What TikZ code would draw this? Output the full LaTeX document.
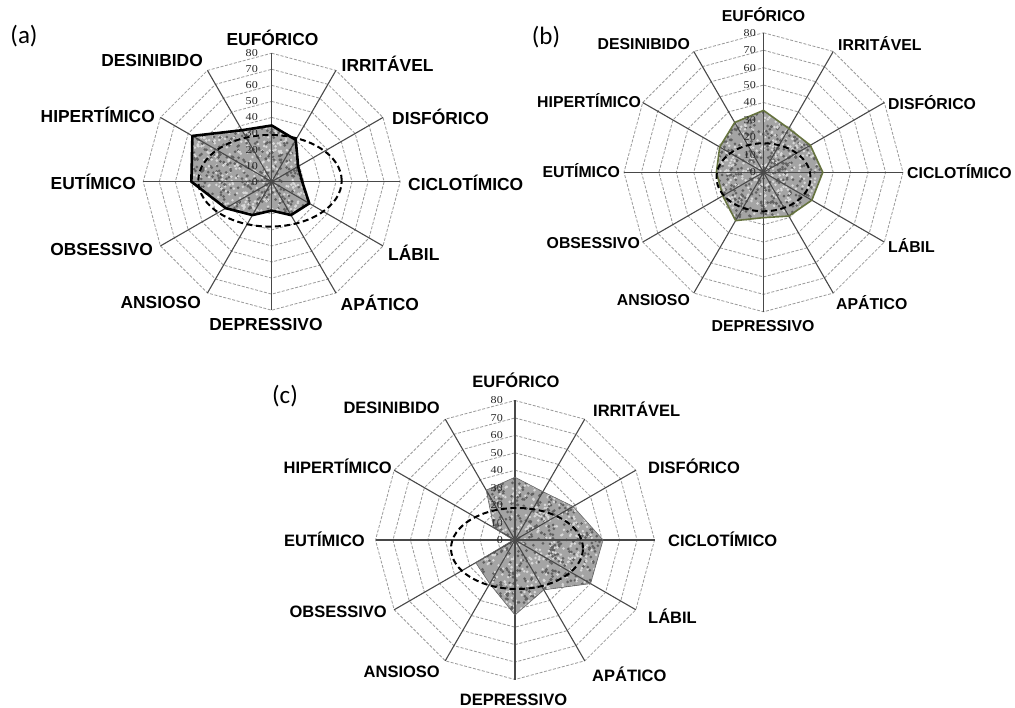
\documentclass[tikz,border=0pt]{standalone}
\usepackage{fontspec}
\setmainfont{Liberation Sans}
\newfontfamily\panelfont{Carlito}
\newfontfamily\tickfont[FakeStretch=1.15]{Liberation Serif}
\definecolor{axiscol}{HTML}{484848}
\definecolor{ringcol}{HTML}{9A9A9A}
\definecolor{fillbase}{HTML}{A4A4A4}
\definecolor{speckdark}{HTML}{626262}
\definecolor{specklight}{HTML}{D8D8D8}
\definecolor{olivecol}{HTML}{66733F}
\tikzset{
  ring/.style={draw=ringcol, line width=0.8pt, dash pattern=on 3pt off 1.6pt},
  axisline/.style={draw=axiscol, line width=1.1pt},
  meanell/.style={draw=black, line width=2pt, dash pattern=on 6pt off 3.5pt},
  catlabel/.style={inner sep=0pt, font=\bfseries\fontsize{#1}{#1}\selectfont},
  ticklabel/.style={inner sep=0pt, anchor=east, font=\tickfont\fontsize{10.5}{10.5}\selectfont, text=black!85},
  panel/.style={inner sep=0pt, font=\panelfont\fontsize{25}{25}\selectfont},
  outA/.style={draw=black, line width=2.6pt, line join=round},
  outB/.style={draw=olivecol, line width=1.6pt, line join=round},
  outC/.style={draw=black!60, line width=0.6pt, line join=round},
}
% #1 prefix, #2 R, #3 values, #4 speckle half size, #5 speckle count, #6 outline style,
% #7 ellipse centre offset, #8 x radius, #9 y radius
\newcommand\radar[9]{%
  \def\radR{#2}%
  \coordinate (#1c) at (0,0);
  \foreach \k in {1,...,8}{\draw[ring] (90:{\k*\radR/8}) \foreach \a in {60,30,...,-240}{ -- (\a:{\k*\radR/8})} -- cycle;}
  \foreach \v [count=\i from 0] in {#3}{\coordinate (#1\i) at ({90-30*\i}:{\v*\radR/80});}
  \foreach \i in {0,...,11}{\coordinate (#1e\i) at ({90-30*\i}:\radR);}
  \begin{scope}
    \clip (#10) \foreach \i in {1,...,11}{ -- (#1\i)} -- cycle;
    \fill[fillbase] (#10) \foreach \i in {1,...,11}{ -- (#1\i)} -- cycle;
    \foreach \j in {1,...,#5}{\fill[speckdark] ({rand*#4},{rand*#4}) circle (1.5);\fill[specklight] ({rand*#4},{rand*#4}) circle (1.4);}
  \end{scope}
  \foreach \i in {0,...,11}{\draw[axisline] (#1c) -- (#1e\i);}
  \draw[#6] (#10) \foreach \i in {1,...,11}{ -- (#1\i)} -- cycle;
  \draw[meanell] (#7) ellipse [x radius=#8, y radius=#9];
}
\newcommand\ticks[3]{\foreach \k in {0,...,8}{\node[ticklabel] (#1t\k) at (-#3,{\k*#2/8}) {\the\numexpr10*\k\relax};}}
\begin{document}
\begin{tikzpicture}[x=1pt,y=1pt]
\pgfmathsetseed{7}
\useasboundingbox (0,0) rectangle (1015,-708);
\fill[white] (0,0) rectangle (1015,-708);

% ---------- chart (a)
\begin{scope}[shift={(271.7,-181.7)}]
  \radar{a}{128.5}{35,30,19,19,27,24,18,24,33,50,57,37}{93}{1150}{outA}{-1.7,0.9}{71.7}{45.8}
  \ticks{a}{128.5}{13.7}
\end{scope}
\node[panel] (pa) at (24,-36) {(a)};
\node[catlabel=17.4, anchor=center] (aL0) at (272.5,-37.5) {EUFÓRICO};
\node[catlabel=17.4, anchor=west] (aL1) at (341.5,-64) {IRRITÁVEL};
\node[catlabel=17.4, anchor=west] (aL2) at (392,-117) {DISFÓRICO};
\node[catlabel=17.4, anchor=west] (aL3) at (408,-182.5) {CICLOTÍMICO};
\node[catlabel=17.4, anchor=west] (aL4) at (388,-253) {LÁBIL};
\node[catlabel=17.4, anchor=west] (aL5) at (340.5,-303) {APÁTICO};
\node[catlabel=17.4, anchor=center] (aL6) at (266,-325) {DEPRESSIVO};
\node[catlabel=17.4, anchor=east] (aL7) at (201,-303) {ANSIOSO};
\node[catlabel=17.4, anchor=east] (aL8) at (153,-250) {OBSESSIVO};
\node[catlabel=17.4, anchor=east] (aL9) at (136,-182) {EUTÍMICO};
\node[catlabel=17.4, anchor=east] (aL10) at (155,-115) {HIPERTÍMICO};
\node[catlabel=17.4, anchor=east] (aL11) at (203,-61) {DESINIBIDO};

% ---------- chart (b)
\begin{scope}[shift={(763.5,-172.3)}]
  \radar{b}{139.5}{35.5,29,31,34,32,29,26,32,27,27,29,33}{64}{560}{outB}{0,-5}{47}{34}
  \ticks{b}{139.5}{7.5}
\end{scope}
\node[panel] (pb) at (546,-37) {(b)};
\node[catlabel=15.8, anchor=center] (bL0) at (763.5,-15) {EUFÓRICO};
\node[catlabel=15.8, anchor=west] (bL1) at (838,-44) {IRRITÁVEL};
\node[catlabel=15.8, anchor=west] (bL2) at (888,-102.5) {DISFÓRICO};
\node[catlabel=15.8, anchor=west] (bL3) at (907,-172) {CICLOTÍMICO};
\node[catlabel=15.8, anchor=west] (bL4) at (888,-246) {LÁBIL};
\node[catlabel=15.8, anchor=west] (bL5) at (836,-302.5) {APÁTICO};
\node[catlabel=15.8, anchor=center] (bL6) at (763,-326) {DEPRESSIVO};
\node[catlabel=15.8, anchor=east] (bL7) at (690,-300) {ANSIOSO};
\node[catlabel=15.8, anchor=east] (bL8) at (640,-243) {OBSESSIVO};
\node[catlabel=15.8, anchor=east] (bL9) at (620,-171) {EUTÍMICO};
\node[catlabel=15.8, anchor=east] (bL10) at (641,-101) {HIPERTÍMICO};
\node[catlabel=15.8, anchor=east] (bL11) at (690,-44) {DESINIBIDO};

% ---------- chart (c)
\begin{scope}[shift={(515,-540)}]
  \radar{c}{139.5}{36,32,38.5,50.5,50,33,43,29,26,1,14,33}{92}{1100}{outC}{2,-8.5}{66}{40.5}
  \ticks{c}{139.5}{12}
\end{scope}
\node[panel] (pc) at (285,-396) {(c)};
\node[catlabel=16.5, anchor=center] (cL0) at (516,-380) {EUFÓRICO};
\node[catlabel=16.5, anchor=west] (cL1) at (593,-409) {IRRITÁVEL};
\node[catlabel=16.5, anchor=west] (cL2) at (648,-466) {DISFÓRICO};
\node[catlabel=16.5, anchor=west] (cL3) at (668,-539) {CICLOTÍMICO};
\node[catlabel=16.5, anchor=west] (cL4) at (648,-616) {LÁBIL};
\node[catlabel=16.5, anchor=west] (cL5) at (592,-674) {APÁTICO};
\node[catlabel=16.5, anchor=center] (cL6) at (513.5,-700) {DEPRESSIVO};
\node[catlabel=16.5, anchor=east] (cL7) at (440,-672) {ANSIOSO};
\node[catlabel=16.5, anchor=east] (cL8) at (387,-612) {OBSESSIVO};
\node[catlabel=16.5, anchor=east] (cL9) at (365,-539) {EUTÍMICO};
\node[catlabel=16.5, anchor=east] (cL10) at (392,-466) {HIPERTÍMICO};
\node[catlabel=16.5, anchor=east] (cL11) at (440,-408) {DESINIBIDO};
\end{tikzpicture}
\end{document}
